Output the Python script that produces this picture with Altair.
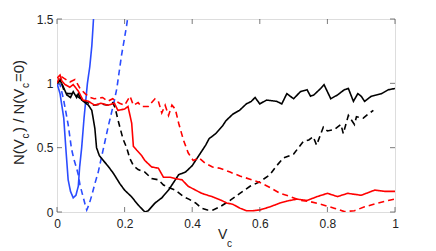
import altair as alt
import pandas as pd

# ---- data ----
blue_solid_x = [0, 0.009, 0.02, 0.026, 0.033, 0.04, 0.048, 0.056, 0.063, 0.067, 0.073, 0.08, 0.09, 0.097, 0.103, 0.108, 0.112]
blue_solid_y = [1.0, 0.92, 0.73, 0.5, 0.25, 0.16, 0.11, 0.13, 0.2, 0.35, 0.5, 0.73, 1.0, 1.13, 1.29, 1.5, 1.65]

blue_dash_x = [0, 0.009, 0.019, 0.026, 0.033, 0.043, 0.05, 0.058, 0.063, 0.068, 0.073, 0.078, 0.083, 0.088,
               0.095, 0.103, 0.112, 0.122, 0.132, 0.142, 0.152, 0.162, 0.17, 0.177, 0.184, 0.191, 0.199, 0.206, 0.213]
blue_dash_y = [1.0, 0.99, 0.88, 0.78, 0.68, 0.49, 0.41, 0.34, 0.29, 0.21, 0.16, 0.11, 0.06, 0.016,
               0.06, 0.13, 0.22, 0.31, 0.43, 0.55, 0.67, 0.78, 0.87, 0.96, 1.09, 1.22, 1.34, 1.45, 1.58]

black_solid_x = [0, 0.01, 0.019, 0.029, 0.04, 0.048, 0.058, 0.063, 0.073, 0.083, 0.093, 0.103, 0.112, 0.117,
                 0.125, 0.137, 0.15, 0.167, 0.186, 0.2, 0.22, 0.24, 0.26, 0.27, 0.29, 0.31, 0.33, 0.35, 0.36,
                 0.38, 0.40, 0.42, 0.44, 0.45, 0.47, 0.49, 0.50, 0.52, 0.54, 0.56, 0.575, 0.586, 0.60, 0.62,
                 0.65, 0.665, 0.68, 0.70, 0.72, 0.74, 0.75, 0.76, 0.78, 0.79, 0.81, 0.83, 0.85, 0.862, 0.877,
                 0.89, 0.90, 0.91, 0.93, 0.96, 0.98, 1.0]
black_solid_y = [1.0, 1.02, 0.97, 0.91, 0.89, 0.935, 0.89, 0.92, 0.87, 0.85, 0.83, 0.79, 0.65, 0.5,
                 0.44, 0.4, 0.36, 0.3, 0.22, 0.17, 0.12, 0.055, 0.0, 0.01, 0.07, 0.11, 0.17, 0.25, 0.29,
                 0.31, 0.36, 0.44, 0.52, 0.57, 0.61, 0.67, 0.71, 0.76, 0.79, 0.84, 0.86, 0.89, 0.84, 0.87,
                 0.86, 0.84, 0.92, 0.88, 0.935, 0.95, 0.90, 0.91, 0.96, 0.99, 0.88, 0.91, 0.95, 0.96, 0.86,
                 0.92, 0.9, 0.86, 0.9, 0.92, 0.95, 0.96]

black_dash_x = [0, 0.01, 0.02, 0.03, 0.05, 0.07, 0.09, 0.11, 0.13, 0.15, 0.165, 0.172, 0.18, 0.186, 0.195,
                0.206, 0.215, 0.226, 0.24, 0.26, 0.28, 0.30, 0.315, 0.33, 0.35, 0.374, 0.39, 0.41, 0.428,
                0.445, 0.462, 0.482, 0.50, 0.512, 0.541, 0.571, 0.60, 0.63, 0.65, 0.67, 0.70, 0.729, 0.745,
                0.758, 0.768, 0.788, 0.80, 0.82, 0.84, 0.847, 0.862, 0.88, 0.886, 0.906, 0.92, 0.936]
black_dash_y = [1.0, 1.03, 0.95, 0.92, 0.92, 0.88, 0.85, 0.83, 0.84, 0.83, 0.85, 0.81, 0.72, 0.66, 0.57,
                0.50, 0.42, 0.36, 0.33, 0.31, 0.26, 0.25, 0.21, 0.19, 0.17, 0.12, 0.1, 0.07, 0.03,
                0.016, 0.016, 0.04, 0.07, 0.09, 0.145, 0.2, 0.235, 0.29, 0.36, 0.42, 0.45, 0.55, 0.56,
                0.585, 0.52, 0.66, 0.63, 0.64, 0.68, 0.61, 0.75, 0.68, 0.74, 0.73, 0.76, 0.79]

red_solid_x = [0, 0.009, 0.014, 0.024, 0.038, 0.048, 0.063, 0.077, 0.093, 0.112, 0.13, 0.15, 0.17, 0.18,
               0.2, 0.21, 0.216, 0.221, 0.226, 0.236, 0.25, 0.26, 0.28, 0.30, 0.315, 0.335, 0.35, 0.37,
               0.388, 0.41, 0.428, 0.458, 0.487, 0.502, 0.52, 0.541, 0.56, 0.58, 0.60, 0.63, 0.66, 0.68,
               0.71, 0.74, 0.77, 0.80, 0.83, 0.86, 0.90, 0.94, 0.97, 1.0]
red_solid_y = [1.04, 1.065, 1.02, 0.99, 0.97, 0.99, 0.94, 0.87, 0.86, 0.83, 0.845, 0.83, 0.845, 0.79,
               0.80, 0.82, 0.75, 0.69, 0.51, 0.48, 0.44, 0.40, 0.35, 0.34, 0.27, 0.27, 0.26, 0.25,
               0.20, 0.17, 0.145, 0.12, 0.09, 0.07, 0.06, 0.03, 0.01, 0.01, 0.016, 0.04, 0.07, 0.085,
               0.1, 0.09, 0.12, 0.145, 0.12, 0.145, 0.13, 0.17, 0.16, 0.16]

red_dash_x = [0, 0.009, 0.02, 0.038, 0.053, 0.068, 0.083, 0.098, 0.11, 0.135, 0.15, 0.165, 0.185, 0.2,
              0.216, 0.226, 0.24, 0.25, 0.27, 0.29, 0.30, 0.31, 0.32, 0.33, 0.34, 0.35, 0.36, 0.374,
              0.388, 0.403, 0.42, 0.438, 0.46, 0.482, 0.512, 0.541, 0.571, 0.60, 0.63, 0.66, 0.69, 0.72,
              0.75, 0.78, 0.82, 0.85, 0.88, 0.91, 0.95, 0.98, 1.0]
red_dash_y = [1.0, 1.06, 1.04, 1.01, 1.03, 0.96, 0.92, 0.89, 0.88, 0.89, 0.86, 0.88, 0.845, 0.83,
              0.9, 0.83, 0.85, 0.82, 0.82, 0.88, 0.86, 0.77, 0.83, 0.75, 0.83, 0.80, 0.69, 0.56,
              0.46, 0.40, 0.42, 0.38, 0.35, 0.34, 0.31, 0.28, 0.255, 0.23, 0.19, 0.145, 0.12, 0.09,
              0.08, 0.06, 0.03, 0.003, 0.01, 0.04, 0.07, 0.09, 0.1]

x_ticks = [0, 0.2, 0.4, 0.6, 0.8, 1.0]
y_ticks = [0, 0.5, 1.0, 1.5]

series_names = ["blue_solid", "blue_dash", "black_solid", "black_dash", "red_solid", "red_dash"]
series_colors = ["#2b4cff", "#2b4cff", "#000000", "#000000", "#ff0000", "#ff0000"]
series_dash = [[1, 0], [6, 4], [1, 0], [6, 4], [1, 0], [6, 4]]

# ---- build table ----
rows = []
for name, xs, ys in [
    ("blue_solid", blue_solid_x, blue_solid_y),
    ("blue_dash", blue_dash_x, blue_dash_y),
    ("black_solid", black_solid_x, black_solid_y),
    ("black_dash", black_dash_x, black_dash_y),
    ("red_solid", red_solid_x, red_solid_y),
    ("red_dash", red_dash_x, red_dash_y),
]:
    for i, (x, y) in enumerate(zip(xs, ys)):
        rows.append({"series": name, "x": x, "y": y, "i": i})
df = pd.DataFrame(rows)

FONT = "Liberation Sans"
FRAME = "#444444"

xscale = alt.Scale(domain=[0, 1], nice=False, zero=False)
yscale = alt.Scale(domain=[0, 1.5], nice=False, zero=False)

lines = alt.Chart(df).mark_line(strokeWidth=1.6, clip=True).encode(
    x=alt.X("x:Q", scale=xscale,
            axis=alt.Axis(values=x_ticks, format="~g", title=None, ticks=False, tickSize=0,
                          domain=False, grid=False, labelFontSize=12, labelFont=FONT,
                          labelColor="#222222", labelPadding=6, labelFlush=False)),
    y=alt.Y("y:Q", scale=yscale,
            axis=alt.Axis(values=y_ticks, format="~g", title=None, ticks=False, tickSize=0,
                          domain=False, grid=False, labelFontSize=12, labelFont=FONT,
                          labelColor="#222222", labelPadding=4, labelFlush=False)),
    color=alt.Color("series:N", scale=alt.Scale(domain=series_names, range=series_colors), legend=None),
    strokeDash=alt.StrokeDash("series:N", scale=alt.Scale(domain=series_names, range=series_dash), legend=None),
    order="i:Q",
)

xt = pd.DataFrame({"x": x_ticks})
yt = pd.DataFrame({"y": y_ticks})

tick_bottom = alt.Chart(xt).mark_tick(orient="vertical", size=5, thickness=1, color=FRAME, yOffset=-2.5).encode(
    x=alt.X("x:Q", scale=xscale), y=alt.YDatum(0))
tick_top = alt.Chart(xt).mark_tick(orient="vertical", size=5, thickness=1, color=FRAME, yOffset=2.5).encode(
    x=alt.X("x:Q", scale=xscale), y=alt.YDatum(1.5))
tick_left = alt.Chart(yt).mark_tick(orient="horizontal", size=5, thickness=1, color=FRAME, xOffset=2.5).encode(
    y=alt.Y("y:Q", scale=yscale), x=alt.XDatum(0))
tick_right = alt.Chart(yt).mark_tick(orient="horizontal", size=5, thickness=1, color=FRAME, xOffset=-2.5).encode(
    y=alt.Y("y:Q", scale=yscale), x=alt.XDatum(1))

# ---- axis titles with subscripts ----
def txt(s, px, py, size, angle=0):
    return alt.Chart(pd.DataFrame({"t": [s]})).mark_text(
        font=FONT, fontSize=size, color="#222222", align="left", baseline="alphabetic", angle=angle
    ).encode(text="t:N", x=alt.value(px), y=alt.value(py))

xtitle = txt("V", 161, 220, 14) + txt("c", 170, 228, 10)
ytitle = (txt("N(V", -33, 146, 15, 270) + txt("c", -28.5, 119.5, 10, 270)
          + txt(") / N(V", -33, 113, 15, 270) + txt("c", -28.5, 69, 10, 270)
          + txt("=0)", -33, 63, 15, 270))

chart = alt.layer(lines, tick_bottom, tick_top, tick_left, tick_right, xtitle, ytitle).properties(
    width=338, height=193,
    autosize=alt.AutoSizeParams(type="none"),
    padding={"left": 49, "top": 11, "right": 33, "bottom": 39},
).configure_view(stroke=FRAME, strokeWidth=1).configure(background="white")

chart.save("out.html", embed_options={"renderer": "svg", "actions": False})
